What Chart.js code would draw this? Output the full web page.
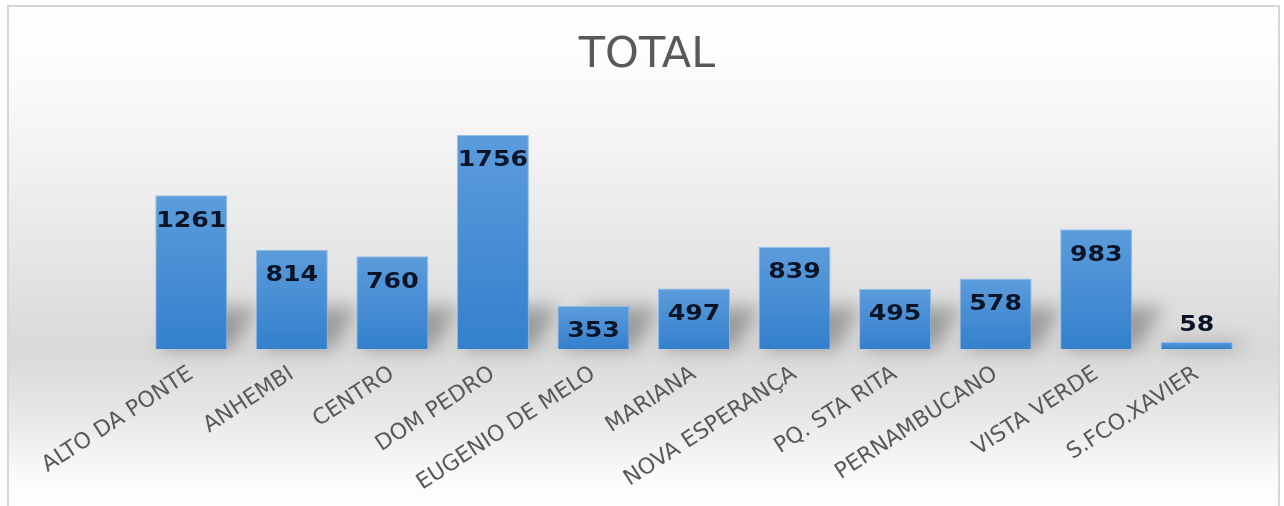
<!DOCTYPE html>
<html>
<head>
<meta charset="utf-8">
<script src="https://cdn.jsdelivr.net/npm/chart.js@4/dist/chart.umd.min.js"></script>
<style>
  html, body { margin: 0; padding: 0; background: #ffffff; }
  #wrap { position: absolute; left: 0; top: 0; width: 1284px; height: 506px; }
</style>
</head>
<body>
<div id="wrap"><canvas id="c" width="1284" height="506"></canvas></div>
<script>
const categories = ["ALTO DA PONTE", "ANHEMBI", "CENTRO", "DOM PEDRO", "EUGENIO DE MELO", "MARIANA", "NOVA ESPERANÇA", "PQ. STA RITA", "PERNAMBUCANO", "VISTA VERDE", "S.FCO.XAVIER"];
const totals = [1261, 814, 760, 1756, 353, 497, 839, 495, 578, 983, 58];
const chartTitle = "TOTAL";

const backgroundPlugin = {
  id: 'bg',
  beforeDraw(chart) {
    const ctx = chart.ctx, W = chart.width, H = chart.height;
    ctx.save();
    ctx.fillStyle = '#ffffff';
    ctx.fillRect(0, 0, W, H);
    const g = ctx.createLinearGradient(0, 6, 0, H);
    g.addColorStop(0.0, '#ffffff');
    g.addColorStop(0.12, '#fcfcfc');
    g.addColorStop(0.32, '#f1f1f1');
    g.addColorStop(0.55, '#e2e2e2');
    g.addColorStop(0.69, '#d9d9d9');
    g.addColorStop(0.80, '#e5e5e5');
    g.addColorStop(0.94, '#fafafa');
    g.addColorStop(1.0, '#ffffff');
    ctx.fillStyle = g;
    ctx.fillRect(9, 7, W - 14, H - 7);
    ctx.strokeStyle = '#d6d6d6';
    ctx.lineWidth = 2;
    ctx.beginPath();
    ctx.moveTo(8, H);
    ctx.lineTo(8, 6);
    ctx.lineTo(1279, 6);
    ctx.lineTo(1279, H);
    ctx.stroke();
    ctx.restore();
  },
  beforeDatasetsDraw(chart) {
    const ctx = chart.ctx;
    const meta = chart.getDatasetMeta(0);
    ctx.save();
    ctx.filter = 'blur(9px)';
    ctx.fillStyle = 'rgba(50,50,50,0.38)';
    meta.data.forEach(bar => {
      const x0 = bar.x - bar.width / 2, x1 = bar.x + bar.width / 2;
      const base = bar.base;
      const h = Math.min(base - bar.y, 42);
      ctx.beginPath();
      ctx.moveTo(x0 + 4, base);
      ctx.lineTo(x1 + 6, base);
      ctx.lineTo(x1 + 6 + h * 0.6, base - h);
      ctx.lineTo(x0 + 4 + h * 0.6, base - h);
      ctx.closePath();
      ctx.fill();
    });
    ctx.restore();
  },
  afterDatasetsDraw(chart) {
    const ctx = chart.ctx;
    const meta = chart.getDatasetMeta(0);
    ctx.save();
    ctx.font = 'bold 21px "DejaVu Sans"';
    ctx.fillStyle = '#0b1426';
    ctx.textAlign = 'center';
    ctx.textBaseline = 'middle';
    meta.data.forEach((bar, i) => {
      const h = bar.base - bar.y;
      const y = h < 30 ? bar.y - 16 : bar.y + 26;
      ctx.save();
      ctx.translate(bar.x, y);
      ctx.scale(1.2, 1);
      ctx.fillText(String(totals[i]), 0, 0);
      ctx.restore();
    });
    ctx.restore();
  }
};

function barGradient(context) {
  const chart = context.chart;
  const area = chart.chartArea;
  if (!area) return '#4a8fd6';
  const y = chart.scales.y;
  const top = y.getPixelForValue(totals[context.dataIndex]);
  const bottom = y.getPixelForValue(0);
  const g = chart.ctx.createLinearGradient(0, top, 0, bottom);
  g.addColorStop(0, '#5c9cdb');
  g.addColorStop(1, '#3480cd');
  return g;
}

new Chart(document.getElementById('c'), {
  type: 'bar',
  data: {
    labels: categories,
    datasets: [{
      label: chartTitle,
      data: totals,
      backgroundColor: barGradient,
      borderColor: 'rgba(140,185,235,0.9)',
      borderWidth: 1,
      categoryPercentage: 1.0,
      barPercentage: 0.716
    }]
  },
  options: {
    responsive: false,
    animation: false,
    events: [],
    layout: { padding: { left: 10, right: 0, top: 0, bottom: 0 }, autoPadding: false },
    plugins: {
      legend: { display: false },
      tooltip: { enabled: false },
      title: {
        display: true,
        text: chartTitle,
        color: '#595959',
        font: { family: '"DejaVu Sans"', size: 43, weight: 'normal', lineHeight: 1.2 },
        padding: { top: 30, bottom: 23.6 }
      }
    },
    scales: {
      x: {
        grid: { display: false, drawTicks: false },
        border: { display: false },
        ticks: {
          autoSkip: false,
          minRotation: 33,
          maxRotation: 33,
          padding: 12,
          color: '#595959',
          font: { family: '"DejaVu Sans"', size: 22 }
        },
        afterFit(scale) { scale.height = 157; }
      },
      y: {
        display: true,
        min: 0,
        max: 2000,
        grid: { display: false, drawTicks: false },
        border: { display: false },
        ticks: { display: false },
        afterFit(scale) { scale.width = 131; }
      },
      y2: {
        display: true,
        position: 'right',
        min: 0,
        max: 2000,
        grid: { display: false, drawTicks: false },
        border: { display: false },
        ticks: { display: false },
        afterFit(scale) { scale.width = 37; }
      }
    }
  },
  plugins: [backgroundPlugin]
});
</script>
</body>
</html>
